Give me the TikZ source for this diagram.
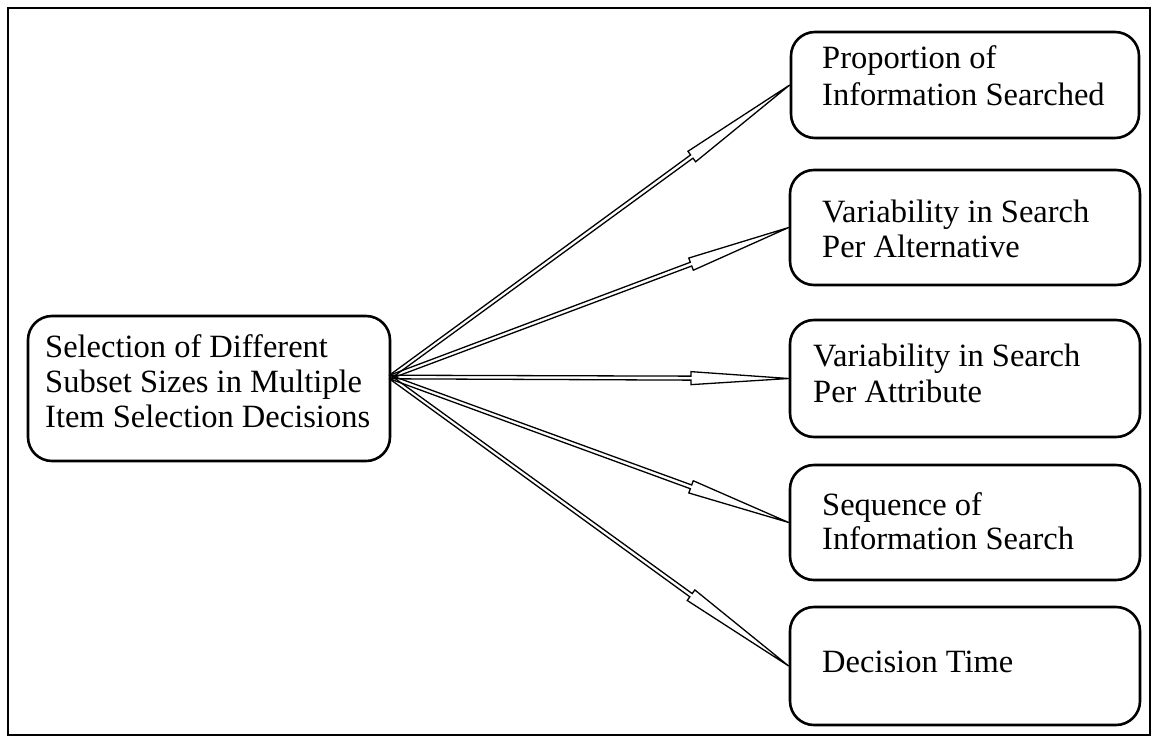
\documentclass[tikz,border=0pt]{standalone}
\usepackage{fontspec}
\setmainfont{Liberation Serif}
\usetikzlibrary{calc}
\tikzset{
  box/.style={draw, line width=2.6pt, rounded corners=24pt, inner sep=0pt},
  lbl/.style={anchor=base west, inner sep=0pt, font=\fontsize{32.5}{36}\selectfont},
  arr/.style={draw, line width=1.3pt, line join=miter},
  frame/.style={draw, line width=1.8pt}
}
\newcommand{\fatarrow}[2]{%
  \coordinate (m) at ($(#1)!0.755!(#2)$);
  \draw[arr] ($(#1)!1.8pt!90:(#2)$) -- ($(m)!2pt!90:(#2)$) -- ($(m)!6.5pt!90:(#2)$)
    -- (#2) -- ($(m)!6.5pt!-90:(#2)$) -- ($(m)!2pt!-90:(#2)$) -- ($(#1)!1.8pt!-90:(#2)$);
}
\begin{document}
\begin{tikzpicture}[x=1pt,y=-1pt]
\useasboundingbox (0,0) rectangle (1158,747);
\draw[frame] (8,8) rectangle (1150,735);

\node[box, minimum width=362pt, minimum height=145pt] (L) at (209,388.5) {};
\node[lbl] (Lt1) at (45,357) {Selection of Different};
\node[lbl] (Lt2) at (45,392) {Subset Sizes in Multiple};
\node[lbl] (Lt3) at (45,427) {Item Selection Decisions};

\node[box, minimum width=348pt, minimum height=106pt] (B1) at (965,85) {};
\node[lbl] (B1a) at (822,68) {Proportion of};
\node[lbl] (B1b) at (822,105) {Information Searched};

\node[box, minimum width=350pt, minimum height=115pt] (B2) at (965,227.5) {};
\node[lbl] (B2a) at (822,222) {Variability in Search};
\node[lbl] (B2b) at (822,257) {Per Alternative};

\node[box, minimum width=350pt, minimum height=117pt] (B3) at (965,378.5) {};
\node[lbl] (B3a) at (813,366) {Variability in Search};
\node[lbl] (B3b) at (813,402) {Per Attribute};

\node[box, minimum width=350pt, minimum height=115pt] (B4) at (965,522.5) {};
\node[lbl] (B4a) at (822,515) {Sequence of};
\node[lbl] (B4b) at (822,549) {Information Search};

\node[box, minimum width=350pt, minimum height=118pt] (B5) at (965,666) {};
\node[lbl] (B5a) at (822,672) {Decision Time};

\coordinate (src) at (390,377);
\fatarrow{src}{B1.west}
\fatarrow{src}{B2.west}
\fatarrow{src}{B3.west}
\fatarrow{src}{B4.west}
\fatarrow{src}{B5.west}
\end{tikzpicture}
\end{document}
